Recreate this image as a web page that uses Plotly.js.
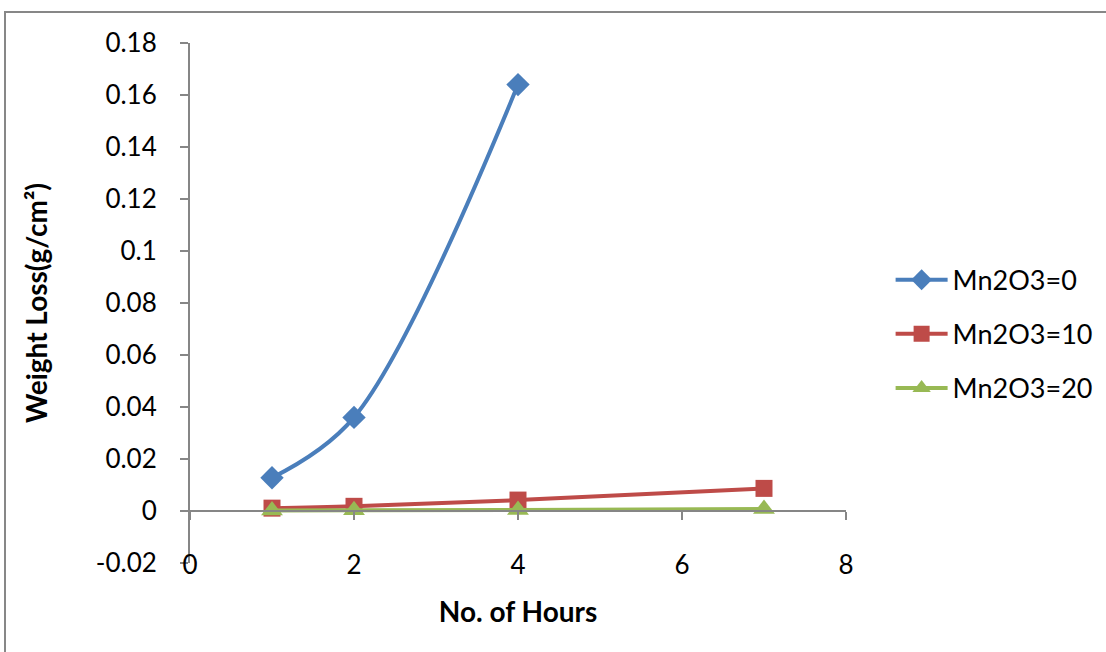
<!DOCTYPE html>
<html>
<head>
<meta charset="utf-8">
<script src="https://cdn.plot.ly/plotly-3.0.1.min.js"></script>
<style>
  html, body { margin: 0; padding: 0; background: #ffffff; }
  #wrap { position: relative; width: 1106px; height: 652px; overflow: hidden; }
  #chart { position: absolute; left: 0; top: 0; width: 1106px; height: 652px; }
  #frame {
    position: absolute; left: 4px; top: 11px; width: 1200px; height: 700px;
    border: 2px solid #878787; pointer-events: none; box-sizing: border-box;
  }
</style>
</head>
<body>
<div id="wrap">
  <div id="chart"></div>
  <div id="frame"></div>
</div>
<script>
// Weight loss over time for three Mn2O3 contents
const hours = [1, 2, 4, 7];
const seriesNames = ['Mn2O3=0', 'Mn2O3=10', 'Mn2O3=20'];
const lossMn0 = [0.0128, 0.036, 0.164];
const hoursMn0 = [1, 2, 4];
const lossMn10 = [0.0011, 0.0018, 0.0042, 0.0087];
const lossMn20 = [0.0002, 0.0003, 0.0004, 0.0008];

const xTickVals = [0, 2, 4, 6, 8];
const xTickLabels = ['0', '2', '4', '6', '8'];
const yTickVals = [-0.02, 0, 0.02, 0.04, 0.06, 0.08, 0.1, 0.12, 0.14, 0.16, 0.18];
const yTickLabels = ['-0.02', '0', '0.02', '0.04', '0.06', '0.08', '0.1', '0.12', '0.14', '0.16', '0.18'];

const FONT = 'Lato, "Open Sans", sans-serif';
const AXIS_GREY = '#868686';
const TICK_SIZE = 26;
const TITLE_SIZE = 28;

function series(x, y, name, color, symbol, size, group) {
  return {
    x: x, y: y, name: name, type: 'scatter', mode: 'lines+markers',
    xaxis: 'x', yaxis: 'y', legendgroup: group,
    line: { color: color, width: 4, shape: 'spline', smoothing: 1 },
    marker: { color: color, symbol: symbol, size: size, line: { width: 0 } }
  };
}

const traces = [
  series(hoursMn0, lossMn0, seriesNames[0], '#4A7EBB', 'diamond', 18, 'a'),
  series(hours, lossMn10, seriesNames[1], '#BE4B48', 'square', 17, 'b'),
  series(hours, lossMn20, seriesNames[2], '#98B954', 'triangle-up', 19, 'c')
];

const layout = {
  width: 1106, height: 652,
  margin: { l: 190, r: 260, t: 43, b: 89, autoexpand: false },
  paper_bgcolor: '#ffffff', plot_bgcolor: 'rgba(0,0,0,0)',
  font: { family: FONT, size: TICK_SIZE, color: '#000000' },
  showlegend: true,
  legend: {
    x: 1.068, y: 0.44, xanchor: 'left', yanchor: 'middle',
    traceorder: 'grouped', tracegroupgap: 16, itemwidth: 52,
    font: { family: FONT, size: 27, color: '#000000' },
    bgcolor: 'rgba(0,0,0,0)'
  },
  // axis line with tick marks, drawn where y = 0
  xaxis: {
    range: [0, 8], anchor: 'free', position: 0.1,
    tickvals: xTickVals, ticktext: xTickLabels, showticklabels: false,
    ticks: 'outside', ticklen: 8, tickwidth: 2, tickcolor: AXIS_GREY,
    showline: true, linecolor: AXIS_GREY, linewidth: 2,
    showgrid: false, zeroline: false, fixedrange: true
  },
  // tick labels and title along the bottom of the plot
  xaxis2: {
    range: [0, 8], overlaying: 'x', anchor: 'free', position: 0.03,
    tickvals: xTickVals, ticktext: xTickLabels, showticklabels: true,
    ticks: '', showline: false, showgrid: false, zeroline: false,
    tickfont: { family: FONT, size: TICK_SIZE, color: '#000000' },
    title: { text: 'No. of Hours', font: { family: FONT, size: TITLE_SIZE, color: '#000000', weight: 'bold' }, standoff: 22 }
  },
  yaxis: {
    range: [-0.02, 0.18], tickvals: yTickVals, ticktext: yTickLabels,
    ticks: 'outside', ticklen: 8, tickwidth: 2, tickcolor: AXIS_GREY,
    showline: true, linecolor: AXIS_GREY, linewidth: 2,
    showgrid: false, zeroline: false, ticklabelstandoff: 18,
    tickfont: { family: FONT, size: TICK_SIZE, color: '#000000' },
    title: { text: 'Weight Loss(g/cm²)', font: { family: FONT, size: TITLE_SIZE, color: '#000000', weight: 'bold' }, standoff: 40 }
  }
};

// empty trace so the label axis is laid out
traces.push({ x: [0], y: [null], xaxis: 'x2', yaxis: 'y', type: 'scatter', mode: 'markers', showlegend: false, hoverinfo: 'skip' });

Plotly.newPlot('chart', traces, layout, { displayModeBar: false, staticPlot: true });
</script>
</body>
</html>
